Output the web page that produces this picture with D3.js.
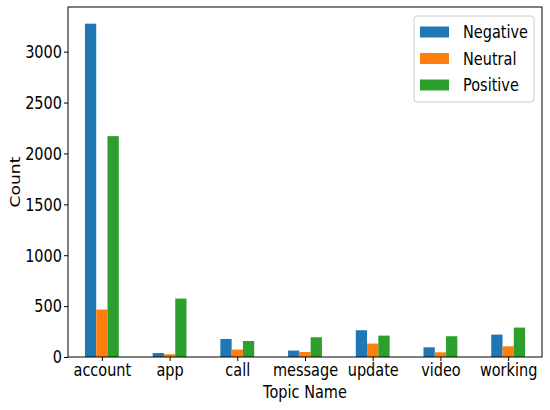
<!DOCTYPE html>
<html><head><meta charset="utf-8">
<script src="https://cdn.jsdelivr.net/npm/d3@7"></script>
<style>body{margin:0;background:#fff}svg{display:block;font-family:"DejaVu Sans",sans-serif}</style>
</head><body><svg id="c" width="550" height="410"></svg>
<script>
const categories = ["account","app","call","message","update","video","working"];
const seriesNames = ["Negative","Neutral","Positive"];
const negative = [3275, 39, 177, 63, 263, 95, 220];
const neutral  = [466, 27, 73, 49, 132, 46, 105];
const positive = [2170, 574, 157, 194, 210, 204, 289];
const yTicks = [0,500,1000,1500,2000,2500,3000];
const colors = ["#1f77b4","#ff7f0e","#2ca02c"];
const series = [negative, neutral, positive];

const svg = d3.select("#c");
const L = 68, R = 542, T = 7, B = 357;
const SY = 1.18;
const x = d3.scaleLinear().domain([-0.5, categories.length - 0.5]).range([L, R]);
const yMax = d3.max(series.flat()) * 1.05;
const y = d3.scaleLinear().domain([0, yMax]).range([B, T]);
const bw = 0.5 / 3;

series.forEach((vals, si) => {
  svg.append("g").selectAll("rect").data(vals).join("rect")
    .attr("x", (d, i) => x(i - 0.25 + si * bw))
    .attr("width", x(bw) - x(0))
    .attr("y", d => y(d))
    .attr("height", d => y(0) - y(d))
    .attr("fill", colors[si]);
});

const fs = 14.5;
const xa = svg.append("g").attr("transform", `translate(0,${B})`)
  .call(d3.axisBottom(x).tickValues(d3.range(categories.length)).tickFormat(i => categories[i]).tickSize(4).tickSizeOuter(0));
const ya = svg.append("g").attr("transform", `translate(${L},0)`)
  .call(d3.axisLeft(y).tickValues(yTicks).tickFormat(d3.format("d")).tickSize(4).tickSizeOuter(0));
[xa, ya].forEach(a => {
  a.selectAll("text").attr("font-size", fs).attr("font-family", "DejaVu Sans").attr("fill", "#000");
  a.select(".domain").remove();
  a.selectAll("line").attr("stroke", "#000");
});
xa.selectAll("text").attr("y", 0).attr("dy", "0.76em").attr("transform", `translate(0,6) scale(1,${SY})`);
ya.selectAll("text").attr("x", 0).attr("dy", "0.34em").attr("transform", `translate(-6,0) scale(1,${SY})`);

svg.append("rect").attr("x", L).attr("y", T).attr("width", R - L).attr("height", B - T)
  .attr("fill", "none").attr("stroke", "#000").attr("stroke-width", 1);

svg.append("text").attr("transform", `translate(${(L + R) / 2},398) scale(1,${SY})`).attr("text-anchor", "middle")
  .attr("font-size", fs).text("Topic Name");
svg.append("text").attr("transform", `translate(20,${(T + B) / 2}) rotate(-90) scale(${SY},1)`).attr("text-anchor", "middle")
  .attr("font-size", fs).text("Count");

const lg = svg.append("g");
lg.append("rect").attr("x", 414).attr("y", 16).attr("width", 120).attr("height", 86)
  .attr("rx", 3).attr("fill", "#fff").attr("fill-opacity", 0.8).attr("stroke", "#ccc");
seriesNames.forEach((n, i) => {
  const cy = 32 + i * 26.5;
  lg.append("rect").attr("x", 420).attr("y", cy - 5.5).attr("width", 29).attr("height", 11).attr("fill", colors[i]);
  lg.append("text").attr("transform", `translate(463,${cy}) scale(1,${SY})`).attr("dy", "0.36em").attr("font-size", fs).text(n);
});
</script></body></html>
